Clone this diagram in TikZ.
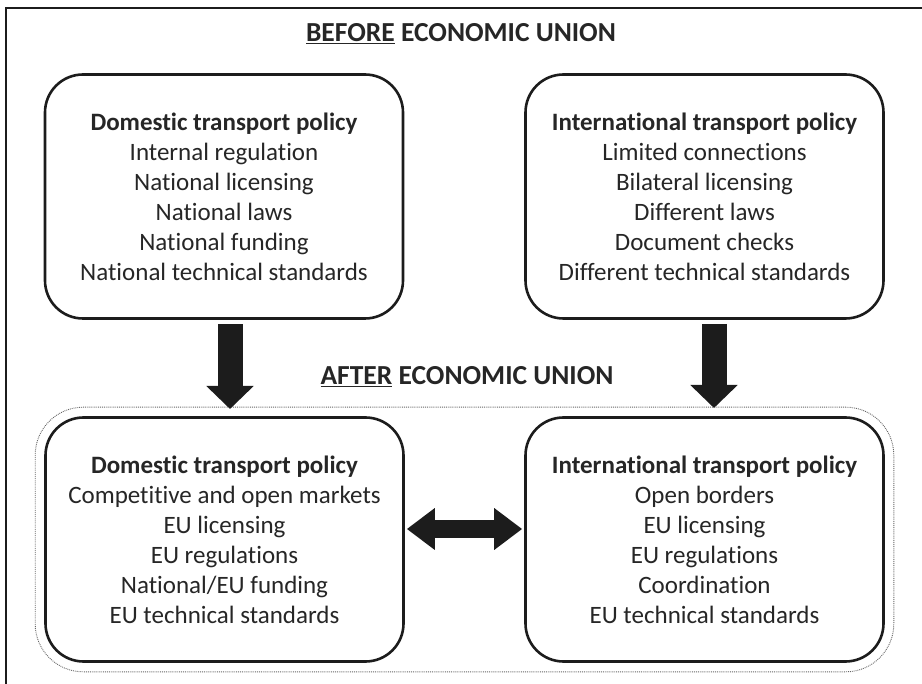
\documentclass[tikz,border=0pt]{standalone}
\usepackage{fontspec}
\setmainfont{Carlito}[Ligatures=NoCommon]
\usetikzlibrary{arrows.meta,fit,calc}
\definecolor{ink}{HTML}{1C1C1C}
\definecolor{txt}{HTML}{262626}
\begin{document}
\begin{tikzpicture}[x=1pt,y=-1pt,
  policybox/.style={draw=ink, line width=2.6pt, rounded corners=38pt,
    minimum width=358pt, minimum height=244pt, align=center, text=txt,
    font=\fontsize{25}{30}\selectfont, inner sep=0pt},
  heading/.style={text=txt, font=\bfseries\fontsize{27.5}{30}\selectfont,
    anchor=base, inner sep=0pt},
  bigdown/.style={draw=ink, line width=25pt, -{Triangle[width=46pt,length=23pt]}},
  bothways/.style={draw=ink, line width=18pt,
    {Triangle[width=40pt,length=28pt]}-{Triangle[width=40pt,length=28pt]}},
  unionline/.style={draw=black!60, line width=0.9pt, densely dotted, rounded corners=48pt}
]
\path[use as bounding box] (0,0) rectangle (922,684);
\clip (0,0) rectangle (922,684);

% outer frame (runs off the right and bottom edges)
\draw[ink, line width=2.6pt] (6,8) rectangle (960,720);

% headings
\node[heading] (before) at (461,42) {\underline{BEFORE} ECONOMIC UNION};
\node[heading] (after) at (467,385) {\underline{AFTER} ECONOMIC UNION};

% before economic union
\node[policybox] (tl) at (224,196.5) {\textbf{Domestic transport policy}\\
  Internal regulation\\ National licensing\\ National laws\\
  National funding\\ National technical standards};
\node[policybox] (tr) at (704.5,196.5) {\textbf{International transport policy}\\
  Limited connections\\ Bilateral licensing\\ Different laws\\
  Document checks\\ Different technical standards};

% after economic union
\node[policybox] (bl) at (224.5,539.5) {\textbf{Domestic transport policy}\\
  Competitive and open markets\\ EU licensing\\ EU regulations\\
  National/EU funding\\ EU technical standards};
\node[policybox] (br) at (704.5,539.5) {\textbf{International transport policy}\\
  Open borders\\ EU licensing\\ EU regulations\\
  Coordination\\ EU technical standards};

\node[unionline, fit=(bl)(br), inner sep=9pt] (union) {};

% transition arrows
\coordinate (tipL) at (230,409);
\coordinate (tipR) at (714,408);
\coordinate (midrow) at (0,529);
\draw[bigdown] ($(tl.south)+(6,4.5)$) -- (tipL);
\draw[bigdown] ($(tr.south)+(9.5,4)$) -- (tipR);
\draw[bothways, shorten <=2pt, shorten >=2pt] (bl.east |- midrow) -- (br.west |- midrow);
\end{tikzpicture}
\end{document}
